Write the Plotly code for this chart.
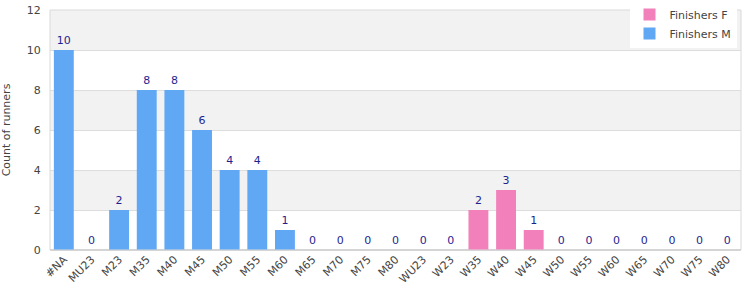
import plotly.graph_objects as go

categories = ["#NA", "MU23", "M23", "M35", "M40", "M45", "M50", "M55", "M60", "M65",
              "M70", "M75", "M80", "WU23", "W23", "W35", "W40", "W45", "W50", "W55",
              "W60", "W65", "W70", "W75", "W80"]
finishers_m = [10, 0, 2, 8, 8, 6, 4, 4, 1, 0, 0, 0, 0, 0, 0,
               None, None, None, None, None, None, None, None, None, None]
finishers_f = [None] * 15 + [2, 3, 1, 0, 0, 0, 0, 0, 0, 0]
y_ticks = [0, 2, 4, 6, 8, 10, 12]

FONT = "DejaVu Sans"
fig = go.Figure()
fig.add_trace(go.Bar(name="Finishers F", x=categories, y=finishers_f,
                     marker=dict(color="#f281bb", line=dict(width=0)),
                     text=finishers_f, textposition="outside", cliponaxis=False,
                     textfont=dict(color="#1f1f8f", size=11, family=FONT)))
fig.add_trace(go.Bar(name="Finishers M", x=categories, y=finishers_m,
                     marker=dict(color="#60a8f4", line=dict(width=0)),
                     text=finishers_m, textposition="outside", cliponaxis=False,
                     textfont=dict(color="#1f1f8f", size=11, family=FONT)))

shapes = []
for lo in [2, 6, 10]:
    shapes.append(dict(type="rect", xref="paper", yref="y", x0=0, x1=1, y0=lo, y1=lo + 2,
                       fillcolor="#f2f2f2", line=dict(width=0), layer="below"))
shapes.append(dict(type="rect", xref="paper", yref="paper", x0=0, x1=1, y0=0, y1=1,
                   line=dict(color="#d9d9d9", width=1), fillcolor="rgba(0,0,0,0)", layer="above"))

fig.update_layout(
    width=750, height=300,
    margin=dict(l=50, r=9, t=10, b=50, autoexpand=False),
    barmode="overlay", bargap=0.28,
    plot_bgcolor="white", paper_bgcolor="white",
    font=dict(family=FONT, size=11, color="#444444"),
    shapes=shapes,
    showlegend=True,
    legend=dict(xref="container", yref="container", x=0.982, xanchor="right",
                y=1.0, yanchor="top", bgcolor="white",
                traceorder="normal", font=dict(size=11, color="#444444", family=FONT),
                itemwidth=30, tracegroupgap=0),
    xaxis=dict(tickangle=-45, showgrid=False, ticks="", tickfont=dict(size=11),
               showline=False),
    yaxis=dict(range=[0, 12], tickvals=y_ticks, showgrid=True, gridcolor="#dddddd",
               zeroline=True, zerolinecolor="#d0d0d0", ticks="outside", ticklen=6,
               tickcolor="rgba(0,0,0,0)",
               title=dict(text="Count of runners", font=dict(size=11), standoff=14),
               tickfont=dict(size=11, color="#444444")),
)
fig.write_html("out.html")
